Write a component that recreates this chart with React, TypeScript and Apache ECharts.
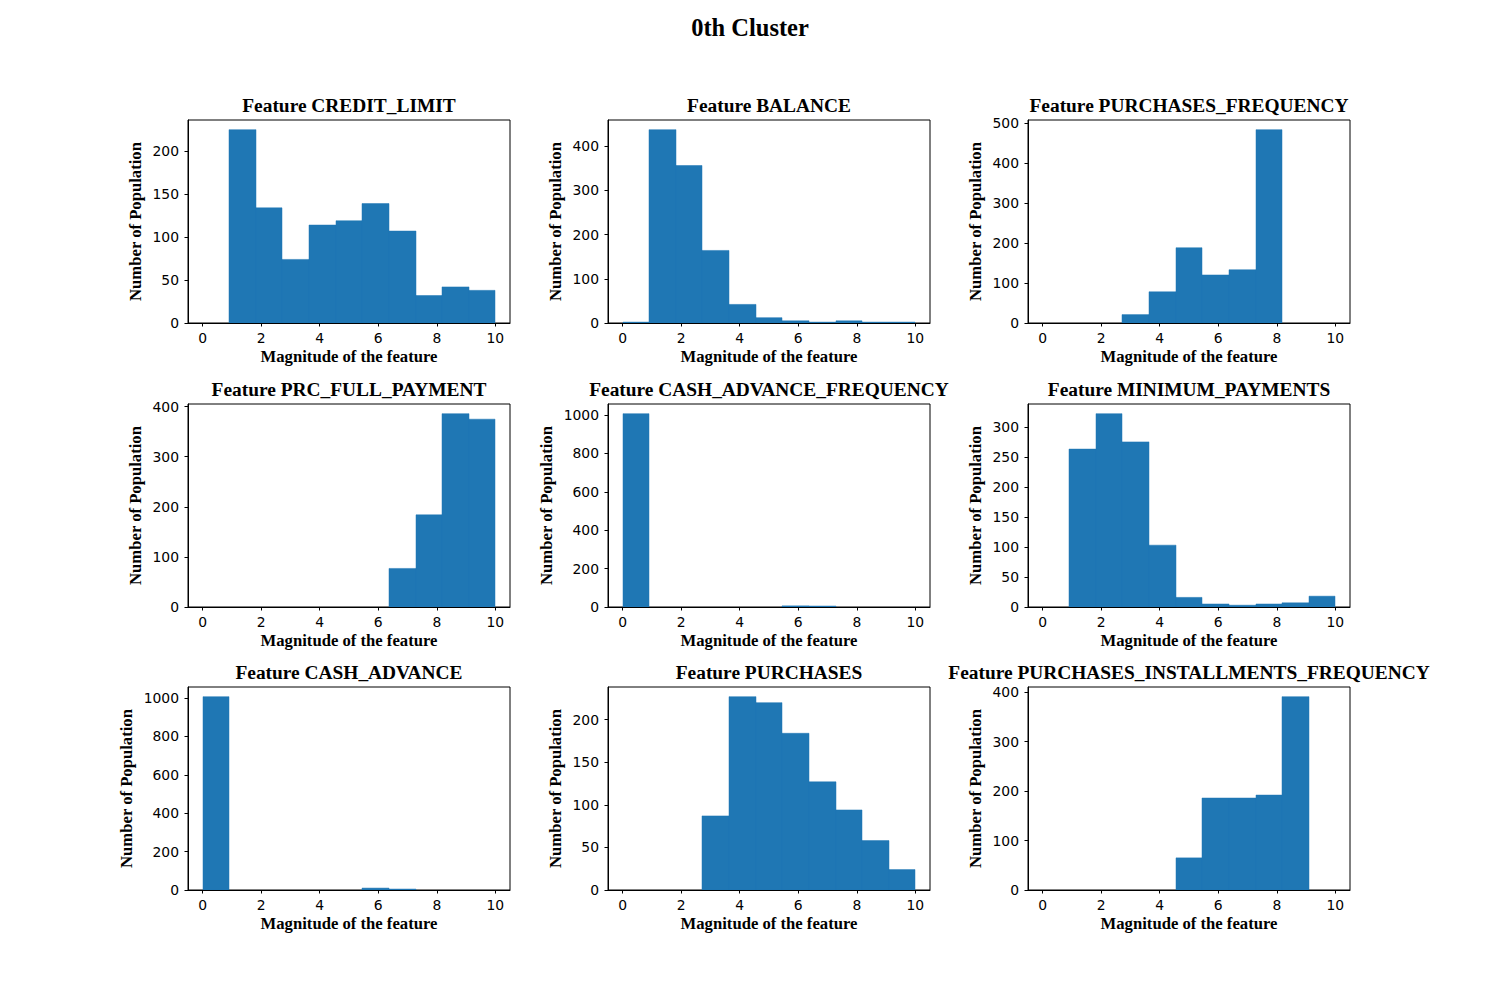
import React, { useEffect, useRef } from "react";
import * as echarts from "echarts";

// Histogram bin edges (11 bins over 0..10)
const BIN_EDGES = [0, 0.909, 1.818, 2.727, 3.636, 4.545, 5.455, 6.364, 7.273, 8.182, 9.091, 10];
const X_TICKS = [0, 2, 4, 6, 8, 10];

const FEATURES = [
  "CREDIT_LIMIT",
  "BALANCE",
  "PURCHASES_FREQUENCY",
  "PRC_FULL_PAYMENT",
  "CASH_ADVANCE_FREQUENCY",
  "MINIMUM_PAYMENTS",
  "CASH_ADVANCE",
  "PURCHASES",
  "PURCHASES_INSTALLMENTS_FREQUENCY",
];

const CREDIT_LIMIT = [0, 225, 134, 74, 114, 119, 139, 107, 32, 42, 38];
const BALANCE = [2, 437, 356, 164, 42, 12, 5, 2, 5, 2, 2];
const PURCHASES_FREQUENCY = [0, 0, 0, 21, 78, 188, 120, 133, 483, 0, 0];
const PRC_FULL_PAYMENT = [0, 0, 0, 0, 0, 0, 0, 77, 184, 386, 375];
const CASH_ADVANCE_FREQUENCY = [1007, 0, 0, 0, 0, 0, 6, 5, 0, 0, 0];
const MINIMUM_PAYMENTS = [0, 263, 322, 275, 103, 16, 5, 3, 5, 7, 18];
const CASH_ADVANCE = [1007, 0, 0, 0, 0, 0, 10, 5, 0, 0, 0];
const PURCHASES = [0, 0, 0, 87, 227, 220, 184, 127, 94, 58, 24];
const PURCHASES_INSTALLMENTS_FREQUENCY = [0, 0, 0, 0, 0, 65, 186, 186, 192, 391, 0];

const COUNTS = [
  CREDIT_LIMIT,
  BALANCE,
  PURCHASES_FREQUENCY,
  PRC_FULL_PAYMENT,
  CASH_ADVANCE_FREQUENCY,
  MINIMUM_PAYMENTS,
  CASH_ADVANCE,
  PURCHASES,
  PURCHASES_INSTALLMENTS_FREQUENCY,
];

const Y_TICKS = [
  [0, 50, 100, 150, 200],
  [0, 100, 200, 300, 400],
  [0, 100, 200, 300, 400, 500],
  [0, 100, 200, 300, 400],
  [0, 200, 400, 600, 800, 1000],
  [0, 50, 100, 150, 200, 250, 300],
  [0, 200, 400, 600, 800, 1000],
  [0, 50, 100, 150, 200],
  [0, 100, 200, 300, 400],
];

const SERIF = "'Liberation Serif', 'Times New Roman', serif";
const SANS = "'DejaVu Sans', sans-serif";
const BAR_COLOR = "#1f77b4";

const COL_LEFT = [188, 608, 1028];
const ROW_TOP = [120, 404, 687];
const AX_W = 322;
const AX_H = 203;

export default function App() {
  const ref = useRef<HTMLDivElement>(null);

  useEffect(() => {
    document.body.style.margin = "0";
    if (!ref.current) return;
    const chart = echarts.init(ref.current, null, { renderer: "svg" });

    const grids: any[] = [];
    const xAxes: any[] = [];
    const yAxes: any[] = [];
    const series: any[] = [];
    const titles: any[] = [
      {
        text: "0th Cluster",
        left: "center",
        top: 15,
        padding: 0,
        textStyle: { fontFamily: SERIF, fontWeight: "bold", fontSize: 24.5, color: "#000" },
      },
    ];

    FEATURES.forEach((feat, i) => {
      const r = Math.floor(i / 3);
      const c = i % 3;
      const left = COL_LEFT[c];
      const top = ROW_TOP[r];
      const counts = COUNTS[i];
      const maxVal = Math.max(...counts) * 1.05;
      const wide = Math.max(...Y_TICKS[i]) >= 1000;

      grids.push({
        left,
        top,
        width: AX_W,
        height: AX_H,
        show: true,
        borderColor: "#000",
        borderWidth: 1,
        backgroundColor: "transparent",
        containLabel: false,
      });

      titles.push({
        text: "Feature " + feat,
        left: left + AX_W / 2,
        textAlign: "center",
        top: top - 24,
        padding: 0,
        textStyle: { fontFamily: SERIF, fontWeight: "bold", fontSize: 19.4, color: "#000" },
      });

      xAxes.push({
        type: "value",
        gridIndex: i,
        min: -0.5,
        max: 10.5,
        name: "Magnitude of the feature",
        nameLocation: "middle",
        nameGap: 25,
        nameTextStyle: { fontFamily: SERIF, fontWeight: "bold", fontSize: 16.67, color: "#000" },
        axisLine: { show: true, onZero: false, lineStyle: { color: "#000", width: 1 } },
        axisTick: { show: true, inside: false, length: 3.5, customValues: X_TICKS, lineStyle: { color: "#000", width: 1 } },
        axisLabel: {
          show: true,
          margin: 8,
          customValues: X_TICKS,
          formatter: (v: number) => String(v),
          fontFamily: SANS,
          fontSize: 13.9,
          color: "#000",
        },
        splitLine: { show: false },
      });

      yAxes.push({
        type: "value",
        gridIndex: i,
        min: 0,
        max: maxVal,
        name: "Number of Population",
        nameLocation: "middle",
        nameGap: wide ? 53 : 44,
        nameTextStyle: { fontFamily: SERIF, fontWeight: "bold", fontSize: 16.67, color: "#000" },
        axisLine: { show: true, onZero: false, lineStyle: { color: "#000", width: 1 } },
        axisTick: { show: true, inside: false, length: 3.5, customValues: Y_TICKS[i], lineStyle: { color: "#000", width: 1 } },
        axisLabel: {
          show: true,
          margin: 9,
          customValues: Y_TICKS[i],
          formatter: (v: number) => String(v),
          fontFamily: SANS,
          fontSize: 13.9,
          color: "#000",
        },
        splitLine: { show: false },
      });

      const data = counts.map((v, k) => [BIN_EDGES[k], BIN_EDGES[k + 1], v]);
      series.push({
        type: "custom",
        xAxisIndex: i,
        yAxisIndex: i,
        data,
        encode: { x: [0, 1], y: 2 },
        clip: true,
        renderItem: (params: any, api: any) => {
          const x0 = api.value(0);
          const x1 = api.value(1);
          const y = api.value(2);
          if (!y) return null;
          const p0 = api.coord([x0, 0]);
          const p1 = api.coord([x1, y]);
          const xl = Math.round(p0[0]);
          const xr = Math.round(p1[0]);
          return {
            type: "rect",
            shape: { x: xl, y: p1[1], width: xr - xl, height: p0[1] - p1[1] },
            style: { fill: BAR_COLOR, stroke: BAR_COLOR, lineWidth: 0.5 },
          };
        },
      });
    });

    chart.setOption({
      animation: false,
      backgroundColor: "#fff",
      title: titles,
      grid: grids,
      xAxis: xAxes,
      yAxis: yAxes,
      series,
    });

    return () => chart.dispose();
  }, []);

  return <div ref={ref} style={{ width: 1500, height: 1000 }} />;
}
